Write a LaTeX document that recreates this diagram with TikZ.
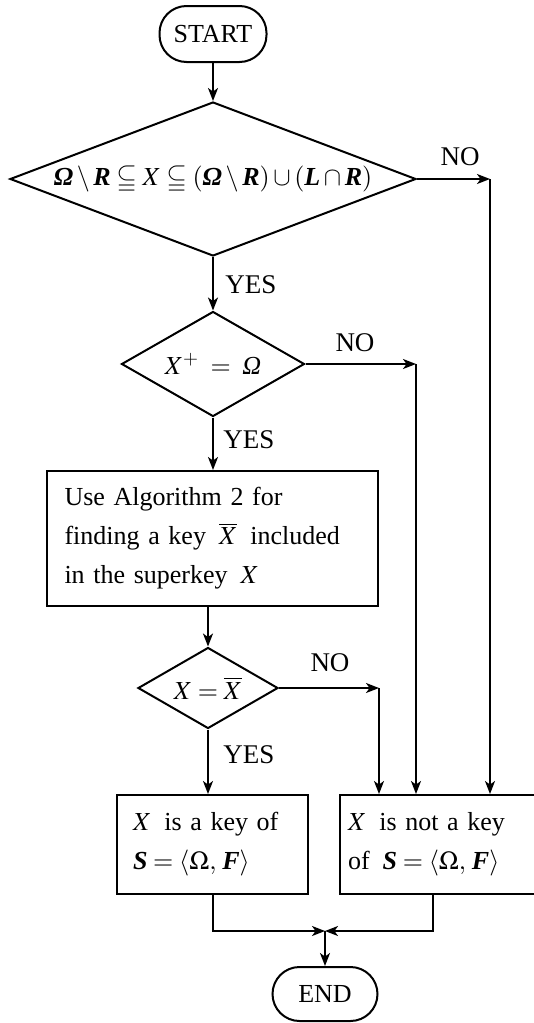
\documentclass[tikz,border=0pt]{standalone}
\usepackage{amssymb}
\usepackage{mathptmx}
\usepackage[no-math]{fontspec}
\setmainfont{Liberation Serif}
\usetikzlibrary{shapes.geometric,arrows.meta}
\newcommand{\bi}[1]{\mbox{\bfseries\itshape #1}}
\newcommand{\ii}[1]{\mbox{\itshape #1}}
\begin{document}
\begin{tikzpicture}[x=0.5pt,y=-0.5pt,
  line width=1pt,
  every node/.style={font=\fontsize{13}{19.5}\selectfont},
  term/.style={draw, rounded corners=13.5pt, minimum width=53.5pt, minimum height=28pt, inner sep=0pt},
  decision/.style={draw, diamond, inner sep=0pt, aspect=1.7},
  proc/.style={draw, rectangle, align=left, inner ysep=0pt},
  lbl/.style={font=\fontsize{13.5}{16}\selectfont},
  arr/.style={-{Stealth[length=6.5pt,width=5pt,inset=1.8pt]}}
]
\useasboundingbox (0,0) rectangle (534,1023);
\clip (0,0) rectangle (534,1023);

\node[term] (start) at (213,34) {START};
\node[decision, aspect=2.6, minimum width=203pt, minimum height=77pt] (d1) at (213,179)
  {$\bi{Ω}\setminus\bi{R}\subseteqq X\subseteqq(\bi{Ω}\setminus\bi{R})\cup(\bi{L}\cap\bi{R})$};
\node[decision, minimum width=91.5pt, minimum height=52.5pt] (d2) at (213,364) {$X^{+}\;=\;\ii{Ω}$};
\node[proc, minimum width=165.5pt, minimum height=67.5pt, text width=148pt, inner xsep=8.75pt] (p1) at (212.5,538.5)
  {Use Algorithm 2 for\\ finding a key \,$\overline{X}$\, included\\ in the superkey \,$X$};
\node[decision, minimum width=70pt, minimum height=40.5pt] (d3) at (208,688) {$X=\overline{X}$};
\node[proc, minimum width=95.5pt, minimum height=49.5pt, text width=79.5pt, inner xsep=8pt] (p3) at (212.5,844.5)
  {$X$\, is a key of\\ $\bi{S}=\langle\Omega,\,\bi{F}\rangle$};
\node[proc, minimum width=105pt, minimum height=49.5pt, text width=97pt, inner xsep=4pt] (p4) at (445,844.5)
  {$X$\, is not a key\\ of \,$\bi{S}=\langle\Omega,\,\bi{F}\rangle$};
\node[term, minimum width=52.5pt, minimum height=27pt] (end) at (325,994) {END};

\coordinate (x1) at (490,0);
\coordinate (x2) at (416,0);
\coordinate (x3) at (379,0);
\coordinate (x4) at (433,0);
\coordinate (m) at (325,931);

\draw[arr] (start.south) -- (d1.north);
\draw[arr] (d1.south) -- (d2.north);
\draw[arr] (d2.south) -- (p1.north -| d2.south);
\draw[arr] (p1.south -| d3.north) -- (d3.north);
\draw[arr] (d3.south) -- (p3.north -| d3.south);

\draw[arr] (d1.east) -- (x1 |- d1.east);
\draw[arr] (x1 |- d1.east) -- (x1 |- p4.north);
\draw[arr] (d2.east) -- (x2 |- d2.east);
\draw[arr] (x2 |- d2.east) -- (x2 |- p4.north);
\draw[arr] (d3.east) -- (x3 |- d3.east);
\draw[arr] (x3 |- d3.east) -- (x3 |- p4.north);

\draw[arr] (p3.south) |- (m);
\draw[arr] (x4 |- p4.south) |- (m);
\draw[arr] (m) -- (end.north);

\node[lbl] (no1) at (460,157) {NO};
\node[lbl] (no2) at (355,343) {NO};
\node[lbl] (no3) at (330,663) {NO};
\node[lbl] (yes1) at (251,285) {YES};
\node[lbl] (yes2) at (249,440) {YES};
\node[lbl] (yes3) at (249,755) {YES};
\end{tikzpicture}
\end{document}
